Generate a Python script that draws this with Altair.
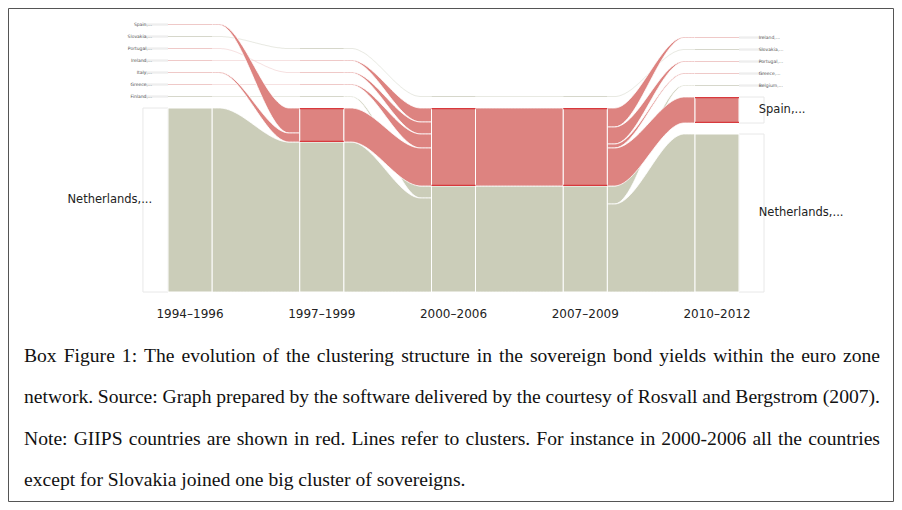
import altair as alt
import pandas as pd
import numpy as np

# ---------------- data ----------------
periods = ["1994–1996", "1997–1999", "2000–2006", "2007–2009", "2010–2012"]

# modules of every period, listed top to bottom; flow carried by GIIPS (red) and other (green) countries
mod_period = [0, 0, 0, 0, 0, 0, 0, 0, 1, 1, 1, 1, 1, 1, 2, 2, 3, 3, 4, 4, 4, 4, 4, 4, 4]
mod_key = ["Spain", "Slovakia", "Portugal", "Ireland", "Italy", "Greece", "Finland", "Netherlands",
           "Slovakia", "Ireland", "Portugal", "Greece", "Finland", "Netherlands",
           "Slovakia", "Netherlands",
           "Slovakia", "Netherlands",
           "Ireland", "Slovakia", "Portugal", "Greece", "Belgium", "Spain", "Netherlands"]
mod_red = [1, 0, 1, 1, 1, 1, 0, 0, 0, 1, 1, 1, 0, 34, 0, 78, 0, 78, 1, 0, 1, 1, 0, 26, 0]
mod_green = [0, 1, 0, 0, 0, 0, 1, 184, 1, 0, 0, 0, 1, 150, 1, 106, 1, 106, 0, 1, 0, 0, 1, 0, 158]

# streams between consecutive periods
st_period = [0] * 8 + [1] * 7 + [2] * 3 + [3] * 7
st_src = ["Spain", "Slovakia", "Portugal", "Ireland", "Italy", "Greece", "Finland", "Netherlands",
          "Slovakia", "Ireland", "Portugal", "Greece", "Finland", "Netherlands", "Netherlands",
          "Slovakia", "Netherlands", "Netherlands",
          "Slovakia", "Netherlands", "Netherlands", "Netherlands", "Netherlands", "Netherlands", "Netherlands"]
st_dst = ["Netherlands", "Slovakia", "Portugal", "Ireland", "Netherlands", "Greece", "Finland", "Netherlands",
          "Slovakia", "Netherlands", "Netherlands", "Netherlands", "Netherlands", "Netherlands", "Netherlands",
          "Slovakia", "Netherlands", "Netherlands",
          "Slovakia", "Ireland", "Portugal", "Greece", "Spain", "Belgium", "Netherlands"]
st_giips = [True, False, True, True, True, True, False, False,
            False, True, True, True, False, True, False,
            False, True, False,
            False, True, True, True, True, False, False]
st_out = [1, 1, 1, 1, 1, 1, 1, 184, 1, 1, 1, 1, 1, 34, 150, 1, 78, 106, 1, 19, 17, 4, 38, 18, 88]
st_in = [25, 1, 1, 1, 9, 1, 1, 150, 1, 14, 12, 14, 12, 38, 94, 1, 78, 106, 1, 1, 1, 1, 26, 1, 158]

caption_lines = [
    "Box Figure 1: The evolution of the clustering structure in the sovereign bond yields within the euro zone",
    "network. Source: Graph prepared by the software delivered by the courtesy of Rosvall and Bergstrom (2007).",
    "Note: GIIPS countries are shown in red. Lines refer to clusters. For instance in 2000-2006 all the countries",
    "except for Slovakia joined one big cluster of sovereigns.",
]

# ---------------- layout constants ----------------
W, H = 886, 494
PXU = 131.75                 # pixels per period step
HALF_W = 22 / PXU            # half module width
GAP = 11                     # gap between modules (flow units = px)
XA = -182 / PXU
XB = XA + W / PXU
YB = 284.0
YA = YB - H
RED, GREEN, DARK = "#dd8380", "#cbcdb9", "#d8393d"
PINK, GREY = "#efc9c8", "#d6d7cb"

xs = alt.Scale(domain=[XA, XB], nice=False, zero=False)
ys = alt.Scale(domain=[YA, YB], nice=False, zero=False)

# ---------------- module layout ----------------
mods = pd.DataFrame({"period": mod_period, "key": mod_key, "red": mod_red, "green": mod_green})
mods["size"] = mods["red"] + mods["green"]
mods["rank"] = mods.groupby("period").cumcount()
mods["y0"] = 0.0
mods["y1"] = 0.0
for p, g in mods.groupby("period"):
    y = 0.0
    for i in g.index[::-1]:
        mods.at[i, "y0"] = y
        y += mods.at[i, "size"]
        mods.at[i, "y1"] = y
        y += GAP
look = {(r.period, r.key): r for r in mods.itertuples()}

st = pd.DataFrame({"period": st_period, "src": st_src, "dst": st_dst, "giips": st_giips,
                   "f_out": st_out, "f_in": st_in})
st["c"] = np.where(st["giips"], 0, 1)
st["src_rank"] = [look[(p, k)].rank for p, k in zip(st["period"], st["src"])]
st["dst_rank"] = [look[(p + 1, k)].rank for p, k in zip(st["period"], st["dst"])]
for col in ["l_top", "l_bot", "r_top", "r_bot"]:
    st[col] = 0.0
cur = {}
for i in st.sort_values(["period", "src_rank", "c", "dst_rank"], kind="stable").index:
    k = (st.at[i, "period"], st.at[i, "src"])
    top = cur.get(k, look[k].y1)
    st.at[i, "l_top"] = top
    st.at[i, "l_bot"] = top - st.at[i, "f_out"]
    cur[k] = top - st.at[i, "f_out"]
cur = {}
for i in st.sort_values(["period", "dst_rank", "c", "src_rank"], kind="stable").index:
    k = (st.at[i, "period"] + 1, st.at[i, "dst"])
    top = cur.get(k, look[k].y1)
    st.at[i, "r_top"] = top
    st.at[i, "r_bot"] = top - st.at[i, "f_in"]
    cur[k] = top - st.at[i, "f_in"]

T = np.linspace(0, 1, 61)
U = np.clip((T - 0.08) / 0.8, 0, 1)
S = U * U * (3 - 2 * U)
srows = []
for i, r in st.iterrows():
    x0 = r.period + HALF_W
    x1 = r.period + 1 - HALF_W
    tiny = max(r.f_out, r.f_in) <= 1.5
    kind = "tiny" if tiny else ("red" if r.giips else "green")
    for t, s in zip(T, S):
        srows.append({"sid": int(i), "kind": kind, "tg": "GIIPS" if r.giips else "other",
                      "x": x0 + (x1 - x0) * t,
                      "top": r.l_top + (r.r_top - r.l_top) * s,
                      "bot": r.l_bot + (r.r_bot - r.l_bot) * s})
sdf = pd.DataFrame(srows)

# module parts
parts, small, edges, boxes, labels = [], [], [], [], []
for r in mods.itertuples():
    x0, x1 = r.period - HALF_W, r.period + HALF_W
    if r.size <= 1.5:
        small.append({"x0": x0, "x1": x1, "ya": r.y0, "yb": r.y1, "sg": "GIIPS" if r.red > 0 else "other"})
    else:
        if r.red > 0:
            parts.append({"x0": x0, "x1": x1, "ya": r.y1 - r.red, "yb": r.y1, "g": "GIIPS"})
            edges.append({"x0": x0, "x1": x1, "y": r.y1 - 0.6})
            edges.append({"x0": x0, "x1": x1, "y": r.y1 - r.red + 0.6})
        if r.green > 0:
            parts.append({"x0": x0, "x1": x1, "ya": r.y0, "yb": r.y0 + r.green, "g": "other"})
    if r.period in (0, len(periods) - 1):
        left = r.period == 0
        bx0 = x0 - 0.19 if left else x1
        bx1 = x0 if left else x1 + 0.19
        boxes.append({"x0": bx0, "x1": bx1, "ya": r.y0, "yb": r.y1})
        labels.append({"x": x0 - 0.12 if left else x1 + 0.15, "y": (r.y0 + r.y1) / 2,
                       "text": r.key + ",...", "big": r.size > 1.5, "left": left})
parts, small, edges, boxes, labels = map(pd.DataFrame, [parts, small, edges, boxes, labels])

# caption word layout (Times metrics, justified)
TW = {" ": 250, "!": 333, "(": 333, ")": 333, ",": 250, "-": 333, ".": 250, ":": 278}
TW.update({d: 500 for d in "0123456789"})
TW.update(dict(zip("ABCDEFGHIJKLMNOPQRSTUVWXYZ",
                   [722, 667, 667, 722, 611, 556, 722, 722, 333, 389, 722, 611, 889, 722, 722, 556, 722, 667,
                    556, 611, 722, 722, 944, 722, 722, 611])))
TW.update(dict(zip("abcdefghijklmnopqrstuvwxyz",
                   [444, 500, 444, 500, 444, 333, 500, 500, 278, 278, 500, 278, 778, 500, 500, 500, 500, 333,
                    389, 278, 500, 500, 722, 500, 500, 444])))
FS = 19.6
CAP_L, CAP_R = 16, 872
cap_base = [354, 395, 437, 478]
crow = []
for li, line in enumerate(caption_lines):
    words = line.split(" ")
    ww = [sum(TW.get(ch, 500) for ch in w) / 1000 * FS for w in words]
    justify = li < len(caption_lines) - 1
    gap = (CAP_R - CAP_L - sum(ww)) / (len(words) - 1) if justify else 0.25 * FS
    xp = CAP_L
    for w, wd in zip(words, ww):
        crow.append({"x": XA + xp / PXU, "y": YB - cap_base[li], "text": w})
        xp += wd + gap
cdf = pd.DataFrame(crow)

pdf = pd.DataFrame({"x": list(range(len(periods))), "y": [-22] * len(periods), "text": periods})

# ---------------- chart ----------------
X = lambda f: alt.X(f, type="quantitative", scale=xs, axis=None)
Y = lambda f: alt.Y(f, type="quantitative", scale=ys, axis=None)
gcol = alt.Color("g:N", scale=alt.Scale(domain=["GIIPS", "other"], range=[RED, GREEN]), legend=None)

base_s = alt.Chart(sdf)
tiny_l = base_s.transform_filter("datum.kind == 'tiny'").mark_area(opacity=0.55).encode(
    x=X("x"), y=Y("top"), y2="bot", detail="sid:N",
    fill=alt.Fill("tg:N", scale=alt.Scale(domain=["GIIPS", "other"], range=[PINK, GREY]), legend=None))
green_l = base_s.transform_filter("datum.kind == 'green'").mark_area(
    color=GREEN, stroke="white", strokeWidth=0.8).encode(x=X("x"), y=Y("top"), y2="bot", detail="sid:N")
red_l = base_s.transform_filter("datum.kind == 'red'").mark_area(
    color=RED, stroke="white", strokeWidth=0.8).encode(x=X("x"), y=Y("top"), y2="bot", detail="sid:N")

box_l = alt.Chart(boxes).mark_rect(fillOpacity=0, stroke="#e8e8e8", strokeWidth=1).encode(
    x=X("x0"), x2="x1", y=Y("ya"), y2="yb")
small_l = alt.Chart(small).mark_rect().encode(
    x=X("x0"), x2="x1", y=Y("ya"), y2="yb",
    fill=alt.Fill("sg:N", scale=alt.Scale(domain=["GIIPS", "other"], range=[PINK, GREY]), legend=None))
parts_l = alt.Chart(parts).mark_rect(stroke="white", strokeWidth=1).encode(
    x=X("x0"), x2="x1", y=Y("ya"), y2="yb", color=gcol)
edge_l = alt.Chart(edges).mark_rule(color=DARK, strokeWidth=1.4).encode(x=X("x0"), x2="x1", y=Y("y"))

lab_big_r = alt.Chart(labels).transform_filter("datum.big && datum.left").mark_text(
    align="right", baseline="middle", font="DejaVu Sans", fontSize=11.5, color="#222").encode(
    x=X("x"), y=Y("y"), text="text:N")
lab_big_l = alt.Chart(labels).transform_filter("datum.big && !datum.left").mark_text(
    align="left", baseline="middle", font="DejaVu Sans", fontSize=11.5, color="#222").encode(
    x=X("x"), y=Y("y"), text="text:N")
lab_sm_r = alt.Chart(labels).transform_filter("!datum.big && datum.left").mark_text(
    align="right", baseline="middle", font="DejaVu Sans", fontSize=4.5, color="#555").encode(
    x=X("x"), y=Y("y"), text="text:N")
lab_sm_l = alt.Chart(labels).transform_filter("!datum.big && !datum.left").mark_text(
    align="left", baseline="middle", font="DejaVu Sans", fontSize=4.5, color="#555").encode(
    x=X("x"), y=Y("y"), text="text:N")

per_l = alt.Chart(pdf).mark_text(baseline="middle", font="DejaVu Sans", fontSize=12, color="#222").encode(
    x=X("x"), y=Y("y"), text="text:N")

cap_l = alt.Chart(cdf).mark_text(align="left", baseline="alphabetic", font="Liberation Serif",
                                 fontSize=FS, color="#111").encode(x=X("x"), y=Y("y"), text="text:N")

border = alt.Chart(pd.DataFrame({"a": [0]})).mark_rect(fillOpacity=0, stroke="#555", strokeWidth=1).encode(
    x=alt.value(0.5), x2=alt.value(W - 0.5), y=alt.value(0.5), y2=alt.value(H - 0.5))

chart = alt.layer(
    box_l, tiny_l, green_l, red_l, small_l, parts_l, edge_l,
    lab_big_r, lab_big_l, lab_sm_r, lab_sm_l, per_l, cap_l, border
).properties(width=W, height=H, autosize="none", padding=0, background="white"
).configure_view(stroke=None)

chart.save("out.html", embed_options={"renderer": "svg", "actions": False})
